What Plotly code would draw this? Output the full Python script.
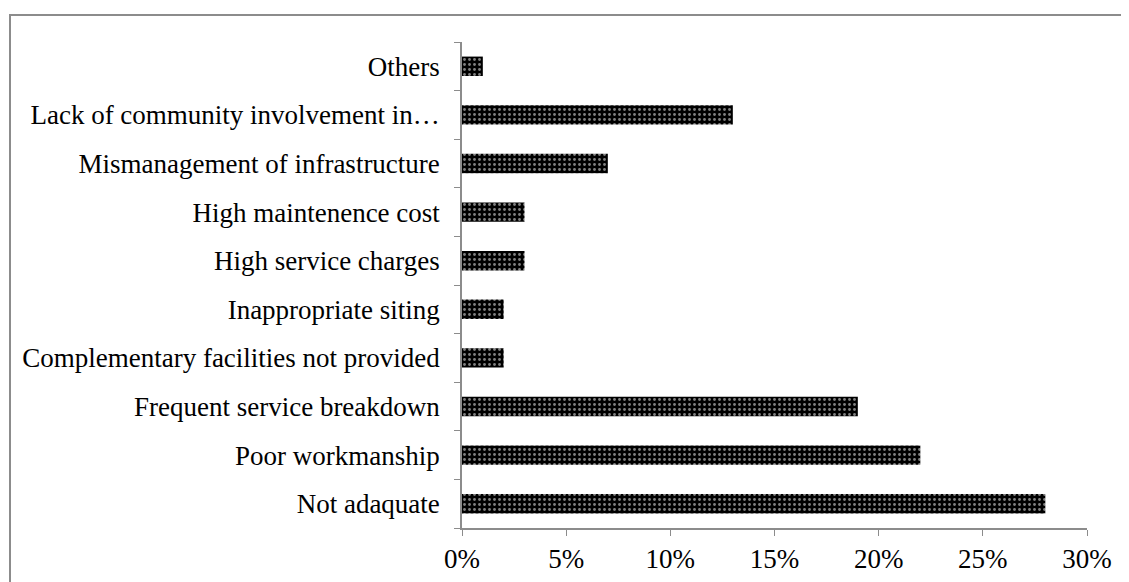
import plotly.graph_objects as go

categories = [
    "Not adaquate",
    "Poor workmanship",
    "Frequent service breakdown",
    "Complementary facilities not provided",
    "Inappropriate siting",
    "High service charges",
    "High maintenence cost",
    "Mismanagement of infrastructure",
    "Lack of community involvement in\u2026",
    "Others",
]
values = [0.28, 0.22, 0.19, 0.02, 0.02, 0.03, 0.03, 0.07, 0.13, 0.01]
x_ticks = [0, 0.05, 0.10, 0.15, 0.20, 0.25, 0.30]
x_tick_labels = ["0%", "5%", "10%", "15%", "20%", "25%", "30%"]

# page has an 8px body margin, so the figure is sized/offset to compensate
W, H = 1121, 574
ml, mr, mt, mb = 454, 42, 34, 54

fig = go.Figure(go.Bar(
    x=values, y=categories, orientation="h",
    marker=dict(color="black", line=dict(width=0),
                pattern=dict(shape=".", fgcolor="white", bgcolor="black",
                             size=5, solidity=0.25)),
    width=0.4,
))

pw = W - ml - mr
ph = H - mt - mb
fig.add_shape(type="rect", xref="paper", yref="paper",
              x0=(2 - ml) / pw, x1=(W + 20 - ml) / pw,
              y0=-(mb + 20) / ph, y1=1 + (mt - 7) / ph,
              line=dict(color="#8c8c8c", width=2), fillcolor="rgba(0,0,0,0)", layer="below")

fig.update_layout(
    width=W, height=H,
    margin=dict(l=ml, r=mr, t=mt, b=mb, pad=0, autoexpand=False),
    paper_bgcolor="white", plot_bgcolor="white",
    font=dict(family="Liberation Serif, Times New Roman, serif", size=27, color="black"),
    showlegend=False,
    xaxis=dict(range=[0, 0.30], tickvals=x_ticks, ticktext=x_tick_labels,
               showgrid=False, zeroline=False, showline=True, linecolor="#8c8c8c",
               linewidth=1.5, ticks="outside", ticklen=6, tickcolor="#8c8c8c",
               automargin=False, tickfont=dict(size=27)),
    yaxis=dict(type="category", categoryorder="array", categoryarray=categories,
               showgrid=False, zeroline=False, showline=True, linecolor="#8c8c8c",
               linewidth=1.5, ticks="outside", ticklen=6, tickcolor="#8c8c8c",
               automargin=False,
               tickson="boundaries", ticklabelstandoff=15, tickfont=dict(size=27)),
)

fig.write_html("out.html")
